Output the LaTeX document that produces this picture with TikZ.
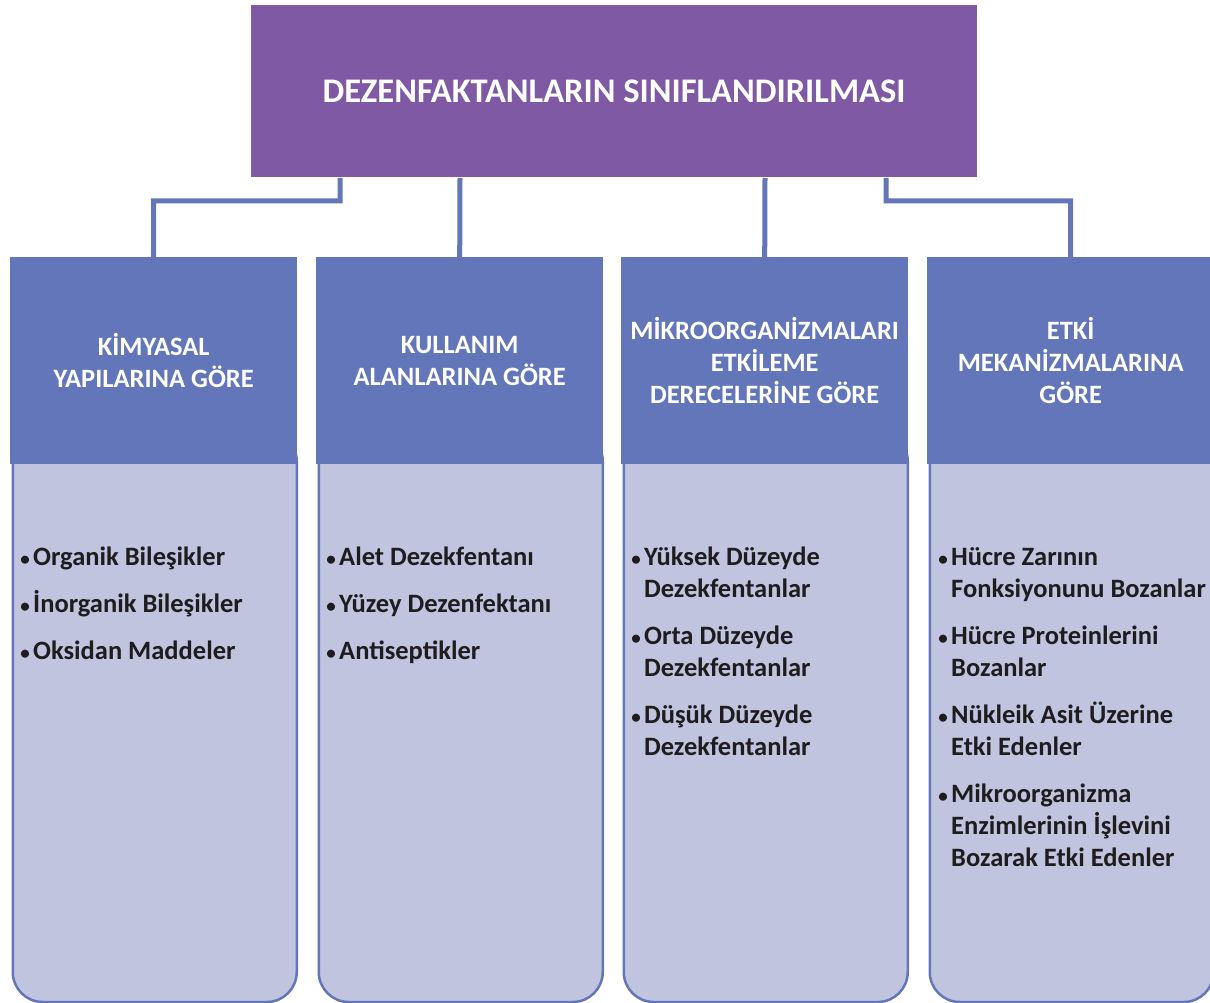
\documentclass[tikz,border=0pt]{standalone}
\usepackage{fontspec}
\setmainfont{Carlito}
\definecolor{hdr}{RGB}{98,118,185}
\definecolor{bodyfill}{RGB}{192,196,222}
\definecolor{ttl}{RGB}{127,89,164}
\definecolor{txt}{RGB}{30,28,30}
\newcommand\itemlines[1]{\begin{tabular}[t]{@{}l@{}}#1\end{tabular}}
\tikzset{
  titlebox/.style={fill=ttl, minimum width=726, minimum height=172, inner sep=0,
    text=white, font=\bfseries\fontsize{34.5}{40}\selectfont},
  headbox/.style={fill=hdr, minimum width=287, minimum height=207, inner sep=0,
    anchor=north west, text=white, align=center,
    font=\bfseries\fontsize{26.5}{32}\selectfont},
  bodybox/.style={draw=hdr, line width=2.5, fill=bodyfill, rounded corners=30,
    minimum width=284, minimum height=570.75, inner sep=0, anchor=north west},
  conn/.style={draw=hdr, line width=5},
  itemtxt/.style={anchor=base west, inner sep=0, text=txt,
    font=\bfseries\fontsize{26.5}{32}\selectfont},
  bulletmark/.style={anchor=base east, inner sep=0, text=txt,
    font=\bfseries\fontsize{19}{32}\selectfont},
}
\begin{document}
\begin{tikzpicture}[x=1pt,y=-1pt]
\useasboundingbox (0,0) rectangle (1210,1003);
% title
\node[titlebox] (title) at (614,91) {DEZENFAKTANLARIN SINIFLANDIRILMASI};
% bodies
\node[bodybox] (b1) at (11.5,430) {};
\node[bodybox] (b2) at (317.5,430) {};
\node[bodybox] (b3) at (622.5,430) {};
\node[bodybox] (b4) at (928.5,430) {};
% headers
\node[headbox] (h1) at (10,257) {KİMYASAL\\YAPILARINA GÖRE};
\node[headbox] (h2) at (316,257) {KULLANIM\\ALANLARINA GÖRE};
\node[headbox] (h3) at (621,257) {MİKROORGANİZMALARI\\ETKİLEME\\DERECELERİNE GÖRE};
\node[headbox] (h4) at (927,257) {ETKİ\\MEKANİZMALARINA\\GÖRE};
% connectors
\coordinate (c1a) at (340,178);
\coordinate (c2a) at (460,178);
\coordinate (c3a) at (765,178);
\coordinate (c4a) at (886,178);
\draw[conn] (c1a) |- (153.5,201) -- (h1.north);
\draw[conn] (c2a) -- (h2.north);
\draw[conn] (c3a) -- (h3.north);
\draw[conn] (c4a) |- (1070.5,201) -- (h4.north);
% items column 1
\node[bulletmark] (i1b) at (30,565) {•};
\node[itemtxt] (i1) at (33,565) {Organik Bileşikler};
\node[bulletmark] (i2b) at (30,612) {•};
\node[itemtxt] (i2) at (33,612) {İnorganik Bileşikler};
\node[bulletmark] (i3b) at (30,659) {•};
\node[itemtxt] (i3) at (33,659) {Oksidan Maddeler};
% column 2
\node[bulletmark] (j1b) at (336,565) {•};
\node[itemtxt] (j1) at (339,565) {Alet Dezekfentanı};
\node[bulletmark] (j2b) at (336,612) {•};
\node[itemtxt] (j2) at (339,612) {Yüzey Dezenfektanı};
\node[bulletmark] (j3b) at (336,659) {•};
\node[itemtxt] (j3) at (339,659) {Antiseptikler};
% column 3
\node[bulletmark] (k1b) at (641,565) {•};
\node[itemtxt] (k1) at (644,565) {\itemlines{Yüksek Düzeyde\\Dezekfentanlar}};
\node[bulletmark] (k2b) at (641,644) {•};
\node[itemtxt] (k2) at (644,644) {\itemlines{Orta Düzeyde\\Dezekfentanlar}};
\node[bulletmark] (k3b) at (641,723) {•};
\node[itemtxt] (k3) at (644,723) {\itemlines{Düşük Düzeyde\\Dezekfentanlar}};
% column 4
\node[bulletmark] (m1b) at (948,565) {•};
\node[itemtxt] (m1) at (951,565) {\itemlines{Hücre Zarının\\Fonksiyonunu Bozanlar}};
\node[bulletmark] (m2b) at (948,644) {•};
\node[itemtxt] (m2) at (951,644) {\itemlines{Hücre Proteinlerini\\Bozanlar}};
\node[bulletmark] (m3b) at (948,723) {•};
\node[itemtxt] (m3) at (951,723) {\itemlines{Nükleik Asit Üzerine\\Etki Edenler}};
\node[bulletmark] (m4b) at (948,802) {•};
\node[itemtxt] (m4) at (951,802) {\itemlines{Mikroorganizma\\Enzimlerinin İşlevini\\Bozarak Etki Edenler}};
\end{tikzpicture}
\end{document}
